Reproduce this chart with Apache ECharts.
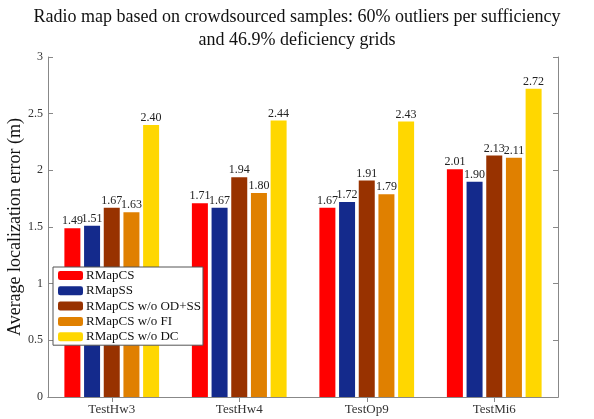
<!DOCTYPE html>
<html><head><meta charset="utf-8">
<script src="https://cdn.jsdelivr.net/npm/echarts@6/dist/echarts.min.js"></script>
<style>html,body{margin:0;padding:0;background:#fff}#c{width:594px;height:419px}</style>
</head><body><div id="c"></div>
<script>
const categories = ['TestHw3','TestHw4','TestOp9','TestMi6'];
const seriesNames = ['RMapCS','RMapSS','RMapCS w/o OD+SS','RMapCS w/o FI','RMapCS w/o DC'];
const rmapcs = [1.49,1.71,1.67,2.01];
const rmapss = [1.51,1.67,1.72,1.90];
const noODSS = [1.67,1.94,1.91,2.13];
const noFI = [1.63,1.80,1.79,2.11];
const noDC = [2.40,2.44,2.43,2.72];
const yTicks = [0,0.5,1,1.5,2,2.5,3];
const colors = ['#FF0000','#142A8C','#983200','#E08000','#FFD700'];
const values = [rmapcs,rmapss,noODSS,noFI,noDC];
const font = '"Liberation Serif","Times New Roman",serif';
const chart = echarts.init(document.getElementById('c'));
const axisLine = {show:true,lineStyle:{color:'#888',width:1}};
chart.setOption({
  animation:false,
  textStyle:{fontFamily:font},
  title:{text:'Radio map based on crowdsourced samples: 60% outliers per sufficiency\nand 46.9% deficiency grids',
    left:'center',top:1,textStyle:{fontFamily:font,fontWeight:'normal',fontSize:18,color:'#111',lineHeight:23}},
  grid:{left:48,right:36,top:57,bottom:22,containLabel:false,outerBoundsMode:'none'},
  legend:{orient:'vertical',left:53,top:267,itemWidth:25,itemHeight:9,itemGap:2.3,
    backgroundColor:'#fff',borderColor:'#555',borderWidth:1,padding:[2,2,2,5],
    textStyle:{fontFamily:font,fontSize:13,lineHeight:13,color:'#111',padding:[0,0,0,-2]},data:seriesNames},
  xAxis:[{type:'category',data:categories,axisLine:axisLine,axisTick:{show:true,inside:true,alignWithLabel:true,length:5,lineStyle:{color:'#888'}},
    axisLabel:{fontFamily:font,fontSize:13,color:'#333',margin:6}},
    {type:'category',position:'top',data:categories,axisLine:axisLine,axisTick:{show:true,inside:true,alignWithLabel:true,length:5,lineStyle:{color:'#888'}},axisLabel:{show:false}}],
  yAxis:[{type:'value',min:yTicks[0],max:yTicks[yTicks.length-1],interval:0.5,
    name:'Average localization error (m)',nameLocation:'middle',nameGap:24,nameMoveOverlap:false,
    nameTextStyle:{fontFamily:font,fontSize:18,color:'#111'},
    axisLine:axisLine,axisTick:{show:true,inside:true,length:5,lineStyle:{color:'#888'}},
    axisLabel:{fontFamily:font,fontSize:12,color:'#333',margin:5,formatter:v=>String(v)},splitLine:{show:false}},
    {type:'value',position:'right',min:yTicks[0],max:yTicks[yTicks.length-1],interval:0.5,
    axisLine:axisLine,axisTick:{show:true,inside:true,length:5,lineStyle:{color:'#888'}},axisLabel:{show:false},splitLine:{show:false}}],
  series:seriesNames.map((n,i)=>({name:n,type:'bar',data:values[i],barWidth:16,barGap:'23%',
    itemStyle:{color:colors[i]},
    label:{show:true,position:'top',distance:1,fontFamily:font,fontSize:12,color:'#222',formatter:p=>p.value.toFixed(2)}}))
});
</script></body></html>
